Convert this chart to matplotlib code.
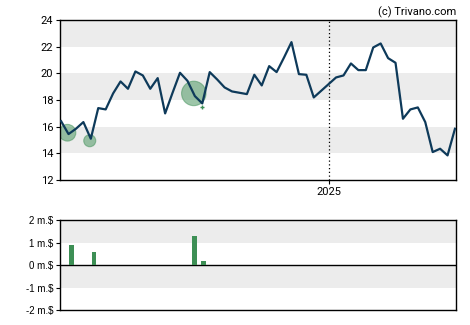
import pandas as pd
import matplotlib
matplotlib.use("Agg")
import matplotlib.pyplot as plt
import matplotlib.dates as mdates

# weekly closing prices
dates = pd.date_range("2024-04-24", periods=54, freq="7D")
prices = [
    16.42, 15.45, 15.85, 16.35, 15.1, 17.4, 17.3, 18.5, 19.4, 18.85,
    20.15, 19.85, 18.85, 19.65, 17.0, 18.55, 20.05, 19.45, 18.3, 17.75,
    20.1, 19.55, 18.95, 18.65, 18.55, 18.45, 19.9, 19.1, 20.55, 20.1,
    21.2, 22.35, 19.95, 19.9, 18.2, 18.7, 19.2, 19.7, 19.85, 20.75,
    20.25, 20.25, 21.95, 22.25, 21.15, 20.8, 16.6, 17.3, 17.45, 16.35,
    14.1, 14.35, 13.85, 15.85,
]

# insider buys (bubbles on price chart)
trade_dates = pd.to_datetime(["2024-04-30", "2024-05-21", "2024-08-27"])
trade_prices = [15.55, 14.95, 18.5]
trade_sizes = [145, 75, 310]
# tiny buy drawn as a plus
small_date = pd.to_datetime(["2024-09-04"])
small_price = [17.5]

# volume of insider buys, million $
bar_dates = pd.to_datetime(["2024-05-04", "2024-05-25", "2024-08-28", "2024-09-05"])
bar_values = [0.9, 0.6, 1.3, 0.2]

line_col = "#0e3a5a"
green = "#3d8f55"
band = "#ececec"

fig = plt.figure(figsize=(4.7, 3.25), dpi=100)
ax = fig.add_axes([0.1277, 0.446, 0.8426, 0.492])
ax2 = fig.add_axes([0.1277, 0.046, 0.8426, 0.277])

# price panel
for lo in [14, 18, 22]:
    ax.axhspan(lo, lo + 2, color=band, lw=0, zorder=0)
ax.axvline(pd.Timestamp("2025-01-01"), color="black", ls=(0, (1, 2)), lw=0.9, zorder=1)
ax.scatter(trade_dates, trade_prices, s=trade_sizes, color=green, alpha=0.5,
           edgecolors=green, linewidths=0.8, zorder=2)
ax.scatter(small_date, small_price, s=10, marker="+", color=green, linewidths=1, zorder=2)
ax.plot(dates, prices, color=line_col, lw=1.6, zorder=3)
ax.set_xlim(dates[0] - pd.Timedelta(days=1), dates[-1] + pd.Timedelta(days=1))
ax.set_ylim(12, 24)
ax.set_yticks([12, 14, 16, 18, 20, 22, 24])
ax.set_xticks([pd.Timestamp("2025-01-01")])
ax.xaxis.set_major_formatter(mdates.DateFormatter("%Y"))
ax.tick_params(labelsize=8, length=3, width=0.8, pad=2)
for lab in ax.get_xticklabels() + ax.get_yticklabels():
    lab.set_fontfamily("Roboto")
for s in ax.spines.values():
    s.set_linewidth(1)

fig.text(0.970, 0.963, "(c) Trivano.com", ha="right", va="center",
         fontsize=8, family="Roboto")

# insider volume panel
for lo in [1, -1]:
    ax2.axhspan(lo, lo + 1, color=band, lw=0, zorder=0)
ax2.axhline(0, color="black", lw=1, zorder=2)
ax2.bar(bar_dates, bar_values, width=4.5, color=green, zorder=3)
ax2.set_xlim(ax.get_xlim())
ax2.set_ylim(-2, 2)
ax2.set_yticks([-2, -1, 0, 1, 2])
ax2.set_yticklabels(["-2 m.$", "-1 m.$", "0 m.$", "1 m.$", "2 m.$"])
ax2.set_xticks([])
ax2.tick_params(labelsize=7, length=3, width=0.8, pad=2)
for lab in ax2.get_yticklabels():
    lab.set_fontfamily("Liberation Sans")
for s in ax2.spines.values():
    s.set_linewidth(1)

fig.savefig("out.png", dpi=100)
